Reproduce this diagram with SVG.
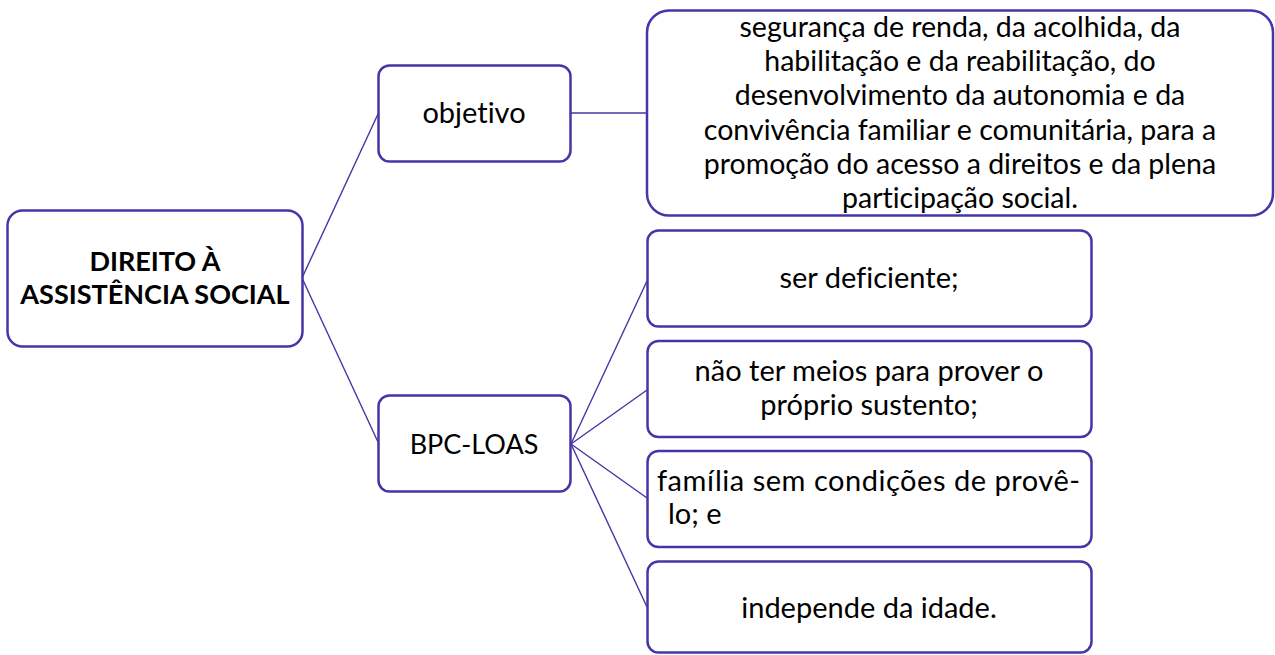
<svg xmlns="http://www.w3.org/2000/svg" width="1275" height="655" viewBox="0 0 1275 655">
<style>
.box{fill:#fff;stroke:#4436a8;stroke-width:2.5}
.con{stroke:#4436a8;stroke-width:1.4;fill:none}
.t{font-family:Lato,"Liberation Sans",sans-serif;font-size:29px;fill:#000;text-anchor:middle;font-variant-ligatures:none}
.m{font-size:28.5px}
.b{font-weight:bold;font-size:27px}
.l{text-anchor:start}
</style>
<rect width="1275" height="655" fill="#fff"/>
<g id="connectors">
<line class="con" x1="302" y1="278" x2="378" y2="114"/>
<line class="con" x1="302" y1="278" x2="378" y2="442"/>
<line class="con" x1="571" y1="113" x2="647" y2="113"/>
<line class="con" x1="571" y1="444" x2="647" y2="281"/>
<line class="con" x1="571" y1="444" x2="647" y2="390"/>
<line class="con" x1="571" y1="444" x2="647" y2="498"/>
<line class="con" x1="571" y1="444" x2="647" y2="607"/>
</g>
<g id="root">
<rect class="box" x="7.5" y="210.5" width="295" height="136" rx="15"/>
<text class="t b" x="155" y="271">DIREITO À</text>
<text class="t b" x="155" y="304">ASSISTÊNCIA SOCIAL</text>
</g>
<g id="objetivo">
<rect class="box" x="378.5" y="65.5" width="192" height="96" rx="11"/>
<text class="t" x="474" y="123">objetivo</text>
</g>
<g id="objetivo-desc">
<rect class="box" x="647" y="10.5" width="626" height="205" rx="22"/>
<text class="t m" x="960" y="37">segurança de renda, da acolhida, da</text>
<text class="t m" x="960" y="71">habilitação e da reabilitação, do</text>
<text class="t m" x="960" y="105">desenvolvimento da autonomia e da</text>
<text class="t m" x="960" y="140">convivência familiar e comunitária, para a</text>
<text class="t m" x="960" y="174">promoção do acesso a direitos e da plena</text>
<text class="t m" x="960" y="208">participação social.</text>
</g>
<g id="bpc">
<rect class="box" x="378.5" y="395.5" width="192" height="96" rx="11"/>
<text class="t" x="474" y="454" style="font-size:27px">BPC-LOAS</text>
</g>
<g id="req1">
<rect class="box" x="647.5" y="230.5" width="444" height="96" rx="11"/>
<text class="t" x="869" y="288">ser deficiente;</text>
</g>
<g id="req2">
<rect class="box" x="647.5" y="341" width="444" height="96" rx="11"/>
<text class="t" x="869" y="381">não ter meios para prover o</text>
<text class="t" x="869" y="415">próprio sustento;</text>
</g>
<g id="req3">
<rect class="box" x="647.5" y="451" width="444" height="96" rx="11"/>
<text class="t l" x="657" y="491" textLength="423" lengthAdjust="spacing">família sem condições de provê-</text>
<text class="t l" x="668" y="524">lo; e</text>
</g>
<g id="req4">
<rect class="box" x="647.5" y="561.5" width="444" height="91" rx="11"/>
<text class="t" x="869" y="618">independe da idade.</text>
</g>
</svg>
